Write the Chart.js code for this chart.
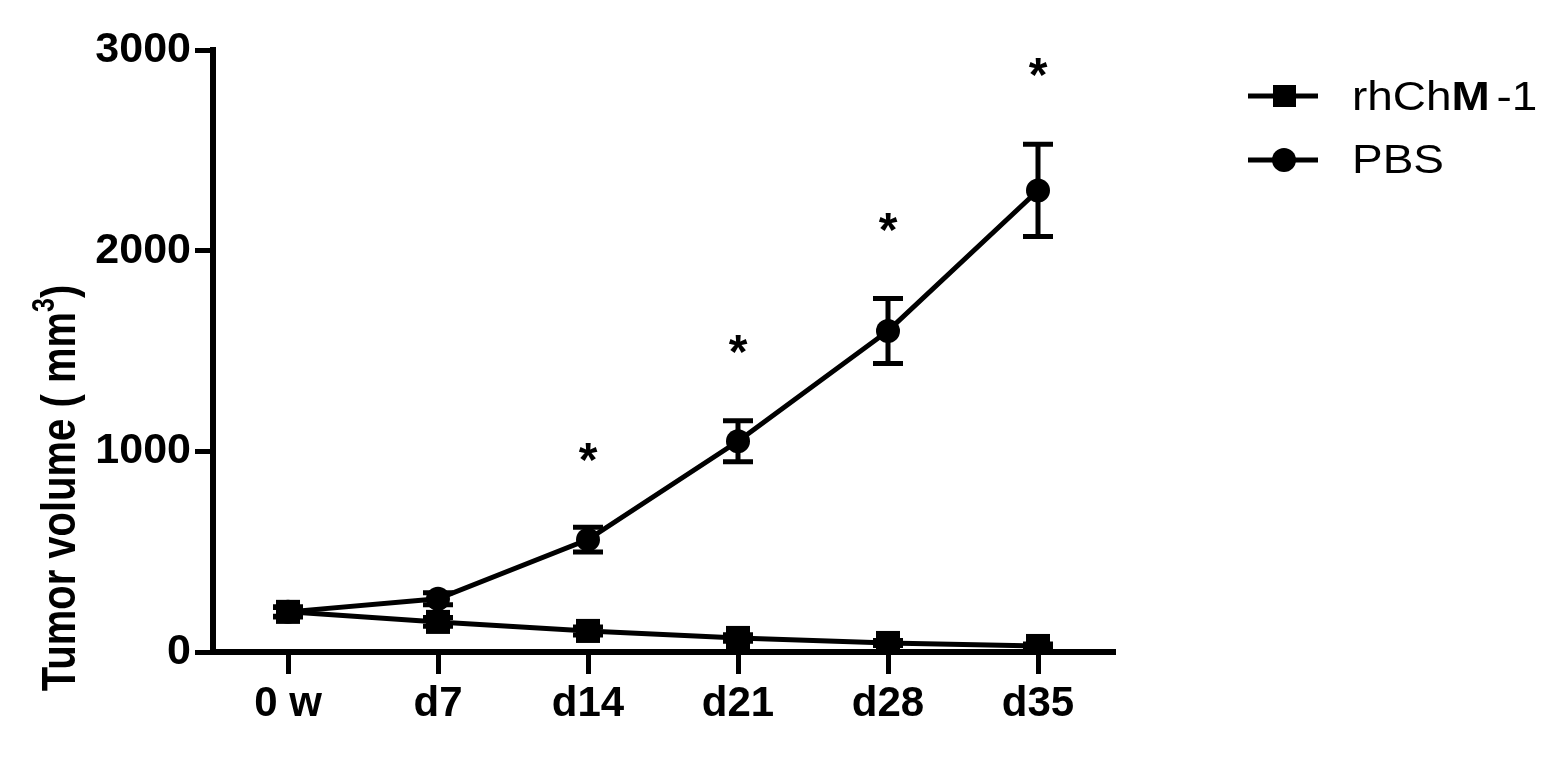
<!DOCTYPE html>
<html><head><meta charset="utf-8">
<script src="https://cdn.jsdelivr.net/npm/chart.js@4.4.0/dist/chart.umd.min.js"></script>
<style>html,body{margin:0;padding:0;background:#fff;overflow:hidden}#wrap{width:1563px;height:784px;position:relative}</style>
</head><body><div id="wrap"><canvas id="c" width="1563" height="784"></canvas></div>
<script>
const categories = ['0 w', 'd7', 'd14', 'd21', 'd28', 'd35'];
const rhChM1 = [200, 150, 105, 70, 45, 30];
const rhChM1Err = [22, 22, 20, 16, 12, 10];
const pbs = [200, 265, 560, 1050, 1600, 2300];
const pbsErr = [25, 30, 62, 102, 162, 230];
const starValues = [null, null, 985, 1520, 2130, 2900];
const yTicks = [0, 1000, 2000, 3000];
const seriesNames = ['rhChM-1', 'PBS'];
const FONT = "'Liberation Sans', Arial, sans-serif";

const errorBars = {
  id: 'errorBars',
  afterDatasetsDraw(chart) {
    const ctx = chart.ctx, y = chart.scales.y;
    const errs = [rhChM1Err, pbsErr];
    ctx.save();
    ctx.strokeStyle = '#000'; ctx.lineWidth = 5; ctx.lineCap = 'butt';
    chart.data.datasets.forEach((ds, i) => {
      const meta = chart.getDatasetMeta(i);
      meta.data.forEach((pt, j) => {
        const v = ds.data[j], e = errs[i][j];
        const yt = y.getPixelForValue(v + e), yb = y.getPixelForValue(v - e);
        ctx.beginPath();
        ctx.moveTo(pt.x, yt); ctx.lineTo(pt.x, yb);
        ctx.moveTo(pt.x - 15, yt); ctx.lineTo(pt.x + 15, yt);
        ctx.moveTo(pt.x - 15, yb); ctx.lineTo(pt.x + 15, yb);
        ctx.stroke();
      });
    });
    // significance stars
    ctx.fillStyle = '#000';
    ctx.font = "bold 48px " + FONT;
    ctx.textAlign = 'center'; ctx.textBaseline = 'middle';
    const x = chart.scales.x;
    starValues.forEach((v, j) => {
      if (v == null) return;
      ctx.fillText('*', x.getPixelForValue(j), y.getPixelForValue(v) + 8);
    });
    ctx.restore();
  }
};

const extras = {
  id: 'extras',
  afterDraw(chart) {
    const ctx = chart.ctx;
    ctx.save();
    ctx.fillStyle = '#000'; ctx.strokeStyle = '#000';
    // Y-axis title
    ctx.translate(75, 488);
    ctx.rotate(-Math.PI / 2);
    ctx.scale(1, 1.22);
    const main = 'Tumor volume ( mm';
    const sup = '3';
    const tail = ')';
    ctx.font = "bold 40px " + FONT;
    const wMain = ctx.measureText(main).width;
    ctx.font = "bold 25px " + FONT;
    const wSup = ctx.measureText(sup).width;
    ctx.font = "bold 40px " + FONT;
    const wTail = ctx.measureText(tail).width;
    const total = wMain + wSup + wTail;
    let sx = -total / 2;
    ctx.textBaseline = 'alphabetic'; ctx.textAlign = 'left';
    ctx.fillText(main, sx, 0); sx += wMain;
    ctx.font = "bold 25px " + FONT;
    ctx.fillText(sup, sx, -17); sx += wSup;
    ctx.font = "bold 40px " + FONT;
    ctx.fillText(tail, sx, 0);
    ctx.restore();

    // Legend
    ctx.save();
    ctx.strokeStyle = '#000'; ctx.fillStyle = '#000'; ctx.lineWidth = 5;
    const rows = [{y: 96, style: 'rect'}, {y: 160, style: 'circle'}];
    rows.forEach((r, i) => {
      ctx.beginPath(); ctx.moveTo(1248, r.y); ctx.lineTo(1318, r.y); ctx.stroke();
      ctx.beginPath();
      if (r.style === 'rect') ctx.rect(1273, r.y - 11, 23, 22);
      else ctx.arc(1284, r.y, 12, 0, Math.PI * 2);
      ctx.fill();
    });
    ctx.textBaseline = 'alphabetic'; ctx.textAlign = 'left';
    ctx.translate(1352, 0);
    ctx.scale(1.12, 1);
    // rhChM-1 with bold M
    let lx = 0;
    const parts = [['rhCh', ''], ['M', 'bold '], ['-1', '']];
    parts.forEach(([t, w]) => {
      ctx.font = w + "41px " + FONT;
      ctx.fillText(t, lx, 110);
      lx += ctx.measureText(t).width + (t === 'M' ? 6 : 0);
    });
    ctx.font = "41px " + FONT;
    ctx.fillText(seriesNames[1], 0, 173);
    ctx.restore();
  }
};

new Chart(document.getElementById('c'), {
  type: 'line',
  data: {
    labels: categories,
    datasets: [
      { label: seriesNames[0], data: rhChM1, borderColor: '#000', backgroundColor: '#000', borderWidth: 5,
        pointStyle: 'rect', pointRadius: 17, pointBorderWidth: 0, pointBackgroundColor: '#000', tension: 0 },
      { label: seriesNames[1], data: pbs, borderColor: '#000', backgroundColor: '#000', borderWidth: 5,
        pointStyle: 'circle', pointRadius: 12, pointBorderWidth: 0, pointBackgroundColor: '#000', tension: 0 }
    ]
  },
  options: {
    responsive: false, animation: false, devicePixelRatio: 1,
    layout: { padding: { left: 0, top: 50, right: 450, bottom: 0 } },
    plugins: { legend: { display: false }, tooltip: { enabled: false } },
    scales: {
      x: {
        type: 'category', offset: true,
        grid: { display: true, drawOnChartArea: false, drawTicks: true, tickLength: 22, lineWidth: 5, color: '#000', offset: false },
        border: { display: true, width: 6, color: '#000' },
        ticks: { color: '#000', font: { family: FONT, size: 42, weight: 'bold' }, padding: 5, maxRotation: 0 },
        afterFit(s) { s.height = 132; }
      },
      y: {
        min: 0, max: 3000,
        afterBuildTicks(s) { s.ticks = yTicks.map(v => ({ value: v })); },
        grid: { display: true, drawOnChartArea: false, drawTicks: true, tickLength: 18, lineWidth: 5, color: '#000' },
        border: { display: true, width: 6, color: '#000' },
        ticks: { color: '#000', font: { family: FONT, size: 43, weight: 'bold' }, padding: 4,
                 callback: (v) => String(v) },
        afterFit(s) { s.width = 213; }
      }
    }
  },
  plugins: [errorBars, extras]
});
</script></body></html>
